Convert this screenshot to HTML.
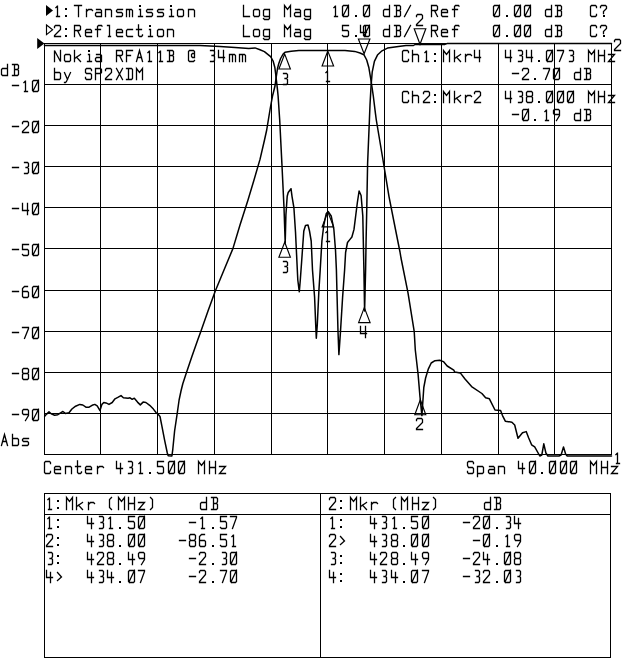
<!DOCTYPE html>
<html><head><meta charset="utf-8"><title>Nokia RFA11B</title>
<style>
html,body{margin:0;padding:0;background:#fff;}
body{width:640px;height:659px;overflow:hidden;font-family:"Liberation Mono",monospace;}
svg{display:block;}
.g{stroke:#000;stroke-width:1;fill:none;shape-rendering:crispEdges;}
.t{stroke:#000;stroke-width:1.5;fill:none;stroke-linejoin:round;stroke-linecap:round;}
.m{stroke:#000;stroke-width:1.15;fill:none;stroke-linejoin:miter;}
.f{stroke:#000;stroke-width:1.3;fill:none;stroke-linecap:square;stroke-linejoin:miter;}
.d{fill:#000;stroke:none;shape-rendering:crispEdges;}
</style></head><body>
<svg width="640" height="659" viewBox="0 0 640 659">
<desc>Network analyzer plot: 1:Transmission Log Mag 10.0 dB/ Ref 0.00 dB C? ; 2:Reflection Log Mag 5.0 dB/ Ref 0.00 dB C? ; Nokia RFA11B @ 34mm by SP2XDM ; Ch1:Mkr4 434.073 MHz -2.70 dB ; Ch2:Mkr2 438.000 MHz -0.19 dB ; Center 431.500 MHz ; Span 40.000 MHz</desc>
<rect width="640" height="659" fill="#fff"/>
<g class="g">
<line x1="44.5" y1="43.0" x2="44.5" y2="455.0"/>
<line x1="100.5" y1="43.0" x2="100.5" y2="455.0"/>
<line x1="157.5" y1="43.0" x2="157.5" y2="455.0"/>
<line x1="214.5" y1="43.0" x2="214.5" y2="455.0"/>
<line x1="271.5" y1="43.0" x2="271.5" y2="455.0"/>
<line x1="327.5" y1="43.0" x2="327.5" y2="455.0"/>
<line x1="384.5" y1="43.0" x2="384.5" y2="455.0"/>
<line x1="441.5" y1="43.0" x2="441.5" y2="455.0"/>
<line x1="498.5" y1="43.0" x2="498.5" y2="455.0"/>
<line x1="554.5" y1="43.0" x2="554.5" y2="455.0"/>
<line x1="611.5" y1="43.0" x2="611.5" y2="455.0"/>
<line x1="44.0" y1="43.5" x2="612.0" y2="43.5"/>
<line x1="44.0" y1="84.5" x2="612.0" y2="84.5"/>
<line x1="44.0" y1="125.5" x2="612.0" y2="125.5"/>
<line x1="44.0" y1="166.5" x2="612.0" y2="166.5"/>
<line x1="44.0" y1="207.5" x2="612.0" y2="207.5"/>
<line x1="44.0" y1="248.5" x2="612.0" y2="248.5"/>
<line x1="44.0" y1="290.5" x2="612.0" y2="290.5"/>
<line x1="44.0" y1="331.5" x2="612.0" y2="331.5"/>
<line x1="44.0" y1="372.5" x2="612.0" y2="372.5"/>
<line x1="44.0" y1="413.5" x2="612.0" y2="413.5"/>
<line x1="44.0" y1="454.5" x2="612.0" y2="454.5"/>
<rect x="44.5" y="493.5" width="566" height="164"/>
<line x1="44" y1="514.5" x2="611" y2="514.5"/>
<line x1="320.5" y1="493" x2="320.5" y2="658"/>
</g>
<polyline class="t" points="44.7,416.2 46.6,414.1 49.0,411.9 51.2,413.8 54.6,415.2 57.8,414.7 60.6,412.8 62.9,411.5 65.3,413.4 69.0,412.8 71.9,409.0 75.6,406.2 79.8,404.4 82.8,405.0 85.9,407.2 89.1,407.2 92.1,405.3 94.8,404.4 97.2,405.9 100.0,410.6 101.9,404.4 103.8,402.5 106.0,402.9 109.0,404.4 112.2,402.5 115.0,398.8 117.8,397.4 121.0,395.6 123.4,397.8 128.1,398.2 130.0,397.8 132.2,399.3 134.3,398.2 137.5,402.1 140.3,404.9 143.1,402.1 145.9,402.5 149.7,405.3 153.4,409.1 156.2,412.8 157.7,413.8 160.0,416.5 161.8,425.6 164.6,440.2 167.3,453.0 168.2,455.7 171.9,456.0 172.8,449.3 174.6,431.0 177.3,412.9 179.1,400.0 181.0,391.0 182.8,383.7 186.4,372.8 191.9,356.4 197.7,340.0 201.0,331.0 208.0,311.0 215.3,291.0 224.0,270.0 232.9,248.6 240.0,225.0 248.0,200.0 254.0,180.0 260.0,159.4 264.5,140.0 266.7,130.0 270.3,108.0 272.5,96.0 275.0,86.0 276.2,77.2 277.5,68.5 278.8,63.5 280.6,58.5 283.1,54.1 285.0,52.2 291.2,51.2 298.8,50.4 345.0,50.4 354.7,51.4 360.0,53.0 363.9,54.7 366.7,60.0 368.9,67.8 371.1,81.0 373.3,96.0 375.5,113.8 376.3,120.0 382.5,157.0 389.0,196.6 395.6,230.0 400.0,252.0 401.0,258.0 408.0,292.8 414.2,331.3 415.3,350.0 418.1,374.4 420.0,396.9 421.9,415.6 423.8,387.5 425.6,378.0 428.4,368.8 431.2,363.0 435.0,360.7 439.7,360.3 443.4,361.6 447.2,366.0 453.8,370.2 454.7,372.0 460.3,372.9 465.0,379.0 471.6,386.6 481.9,393.5 485.6,397.8 489.4,398.8 495.0,410.0 500.6,410.4 502.5,415.6 505.3,421.2 511.9,422.2 514.7,425.0 518.0,438.3 522.5,432.7 526.2,431.6 528.6,437.7 531.6,444.8 534.7,446.9 539.8,456.0 541.8,455.0 543.8,443.8 545.9,453.0 547.9,456.0 559.0,456.0 561.1,455.0 563.5,446.9 565.6,454.0 567.2,456.0 611.5,456.0"/>
<polyline class="t" points="44.5,45.5 200.0,45.5 220.0,46.5 235.0,47.4 248.8,48.4 255.0,47.9 260.0,49.8 264.4,51.6 267.5,54.1 270.6,56.6 273.1,61.0 274.8,67.2 275.6,73.5 276.5,81.0 277.5,89.8 278.1,96.0 279.7,120.0 281.9,163.8 284.0,207.5 285.2,243.0 285.9,215.0 286.6,205.0 287.2,196.3 288.2,192.5 291.0,188.7 292.0,196.3 293.9,207.7 295.5,232.0 297.8,280.0 299.3,291.8 300.3,280.0 301.6,262.0 303.8,231.0 305.5,225.5 308.0,225.0 309.5,231.0 311.2,241.0 312.5,270.0 314.6,297.3 315.7,324.6 316.3,338.3 317.3,324.6 318.9,290.5 320.2,270.0 321.9,241.0 323.8,225.0 326.2,213.8 328.1,211.5 331.2,216.0 333.8,228.8 335.5,250.0 336.4,270.0 337.1,297.3 338.0,331.4 338.9,354.6 340.5,331.4 342.6,297.3 344.6,270.0 345.6,252.5 347.5,242.5 350.0,239.4 351.9,237.0 354.0,229.4 357.3,203.0 359.1,191.0 361.1,195.5 362.8,216.0 363.9,270.0 364.6,311.0 365.6,270.0 366.1,240.0 366.8,207.5 367.6,163.8 369.4,120.0 370.0,105.0 371.1,85.3 372.2,72.2 374.4,61.3 377.7,54.7 382.0,50.8 387.5,48.1 393.0,47.2 398.4,46.5 406.0,45.6 413.5,45.5 415.0,44.5 445.0,44.4 447.0,43.6 611.5,43.6"/>
<path class="m" d="M327.8 51.0 L322.1 66.0 L333.6 66.0 Z"/>
<path class="m" d="M420.3 399.7 L414.8 414.7 L425.8 414.7 Z"/>
<path class="m" d="M284.7 54.0 L278.9 69.0 L290.4 69.0 Z"/>
<path class="m" d="M364.1 53.8 L358.4 39.0 L369.9 39.0 Z"/>
<path class="m" d="M327.8 211.9 L322.1 226.9 L333.6 226.9 Z"/>
<path class="m" d="M420.0 44.3 L414.2 28.7 L425.8 28.7 Z"/>
<path class="m" d="M284.7 242.2 L278.9 257.2 L290.4 257.2 Z"/>
<path class="m" d="M364.3 307.6 L358.6 322.6 L370.1 322.6 Z"/>
<path d="M37.2 38.1 L44.4 43.6 L37.2 49.1 Z" fill="#000"/>
<path d="M46 5.0 L53 10.45 L46 15.9 Z" fill="#000"/>
<path class="m" d="M46.5 25.0 L52.6 29.8 L46.5 34.6 Z"/>
<path class="f" d="M55.90 7.70 L57.50 5.90 L57.50 5.50 L57.50 16.50 M56.50 16.50 L59.50 16.50 M74.50 5.50 L81.50 5.50 M78.50 5.50 L78.50 16.50 M86.50 9.50 L86.50 16.50 M86.50 11.50 L88.50 9.50 L91.50 9.50 L92.50 10.50 M96.50 9.50 L100.50 9.50 L101.50 10.50 L101.50 16.50 M101.50 12.50 L96.50 12.50 L95.50 13.50 L95.50 15.50 L96.50 16.50 L101.50 16.50 M105.50 16.50 L105.50 9.50 L110.50 9.50 L111.50 10.50 L111.50 16.50 M122.50 9.50 L117.50 9.50 L116.50 10.50 L116.50 11.50 L117.50 12.50 L121.50 12.50 L122.50 13.50 L122.50 15.50 L121.50 16.50 L116.50 16.50 M126.50 16.50 L126.50 9.50 L131.50 9.50 L132.50 10.50 L132.50 16.50 M129.50 9.50 L129.50 16.50 M139.50 9.50 L140.50 9.50 L140.50 16.50 M138.50 16.50 L142.50 16.50 M152.50 9.50 L147.50 9.50 L146.50 10.50 L146.50 11.50 L147.50 12.50 L151.50 12.50 L152.50 13.50 L152.50 15.50 L151.50 16.50 L146.50 16.50 M163.50 9.50 L158.50 9.50 L157.50 10.50 L157.50 11.50 L158.50 12.50 L162.50 12.50 L163.50 13.50 L163.50 15.50 L162.50 16.50 L157.50 16.50 M170.50 9.50 L171.50 9.50 L171.50 16.50 M169.50 16.50 L173.50 16.50 M178.50 16.50 L182.50 16.50 L183.50 15.50 L183.50 10.50 L182.50 9.50 L178.50 9.50 L177.50 10.50 L177.50 15.50 L178.50 16.50 M188.50 16.50 L188.50 9.50 L193.50 9.50 L194.50 10.50 L194.50 16.50 M54.50 27.50 L54.50 26.50 L55.50 25.50 L59.50 25.50 L60.50 26.50 L60.50 29.50 L54.50 35.50 L54.50 36.50 L60.50 36.50 M74.50 36.50 L74.50 25.50 L79.50 25.50 L80.50 26.50 L80.50 29.50 L79.50 30.50 L74.50 30.50 M77.50 30.50 L80.50 36.50 M85.50 32.50 L91.50 32.50 L91.50 30.50 L90.50 29.50 L86.50 29.50 L85.50 30.50 L85.50 35.50 L86.50 36.50 L91.50 36.50 M102.00 26.10 L101.50 25.50 L98.50 25.50 L97.50 26.50 L97.50 36.50 M95.50 29.50 L100.50 29.50 M107.50 25.50 L109.50 25.50 L109.50 36.50 M108.50 36.50 L110.50 36.50 M116.50 32.50 L122.50 32.50 L122.50 30.50 L121.50 29.50 L117.50 29.50 L116.50 30.50 L116.50 35.50 L117.50 36.50 L122.50 36.50 M132.50 29.50 L127.50 29.50 L126.50 30.50 L126.50 35.50 L127.50 36.50 L132.50 36.50 M138.50 25.00 L138.50 35.50 L139.50 36.50 L141.50 36.50 L142.50 35.50 L142.50 34.90 M136.50 29.50 L141.50 29.50 M149.50 29.50 L150.50 29.50 L150.50 36.50 M148.50 36.50 L152.50 36.50 M158.50 36.50 L162.50 36.50 L163.50 35.50 L163.50 30.50 L162.50 29.50 L158.50 29.50 L157.50 30.50 L157.50 35.50 L158.50 36.50 M167.50 36.50 L167.50 29.50 L172.50 29.50 L173.50 30.50 L173.50 36.50 M243.50 5.50 L243.50 16.50 L249.50 16.50 M254.50 16.50 L258.50 16.50 L259.50 15.50 L259.50 10.50 L258.50 9.50 L254.50 9.50 L253.50 10.50 L253.50 15.50 L254.50 16.50 M269.50 9.50 L264.50 9.50 L263.50 10.50 L263.50 15.50 L264.50 16.50 L269.50 16.50 M269.50 9.50 L269.50 18.50 L268.50 19.50 L264.50 19.50 L263.50 18.50 M284.50 16.50 L284.50 5.50 L287.50 9.50 L290.50 5.50 L290.50 16.50 M295.50 9.50 L299.50 9.50 L300.50 10.50 L300.50 16.50 M300.50 12.50 L295.50 12.50 L294.50 13.50 L294.50 15.50 L295.50 16.50 L300.50 16.50 M310.50 9.50 L305.50 9.50 L304.50 10.50 L304.50 15.50 L305.50 16.50 L310.50 16.50 M310.50 9.50 L310.50 18.50 L309.50 19.50 L305.50 19.50 L304.50 18.50 M243.50 25.50 L243.50 36.50 L249.50 36.50 M254.50 36.50 L258.50 36.50 L259.50 35.50 L259.50 30.50 L258.50 29.50 L254.50 29.50 L253.50 30.50 L253.50 35.50 L254.50 36.50 M269.50 29.50 L264.50 29.50 L263.50 30.50 L263.50 35.50 L264.50 36.50 L269.50 36.50 M269.50 29.50 L269.50 38.50 L268.50 39.50 L264.50 39.50 L263.50 38.50 M284.50 36.50 L284.50 25.50 L287.50 29.50 L290.50 25.50 L290.50 36.50 M295.50 29.50 L299.50 29.50 L300.50 30.50 L300.50 36.50 M300.50 32.50 L295.50 32.50 L294.50 33.50 L294.50 35.50 L295.50 36.50 L300.50 36.50 M310.50 29.50 L305.50 29.50 L304.50 30.50 L304.50 35.50 L305.50 36.50 L310.50 36.50 M310.50 29.50 L310.50 38.50 L309.50 39.50 L305.50 39.50 L304.50 38.50 M333.90 7.70 L335.50 5.90 L335.50 5.50 L335.50 16.50 M334.50 16.50 L337.50 16.50 M343.50 16.50 L347.50 16.50 L348.50 15.50 L348.50 6.50 L347.50 5.50 L343.50 5.50 L342.50 6.50 L342.50 15.50 L343.50 16.50 M343.00 16.00 L348.50 5.20 M364.50 16.50 L368.50 16.50 L369.50 15.50 L369.50 6.50 L368.50 5.50 L364.50 5.50 L363.50 6.50 L363.50 15.50 L364.50 16.50 M364.00 16.00 L369.50 5.20 M389.50 5.50 L389.50 16.50 L384.50 16.50 L383.50 15.50 L383.50 10.50 L384.50 9.50 L389.50 9.50 M394.50 5.50 L399.50 5.50 L400.50 6.50 L400.50 9.50 L399.50 10.50 L396.50 10.50 M399.50 10.50 L400.50 11.50 L400.50 15.50 L399.50 16.50 L394.50 16.50 M396.50 16.50 L396.50 5.50 M404.50 16.50 L410.50 5.50 M348.50 25.50 L342.50 25.50 L342.50 30.50 L347.50 30.50 L348.50 31.50 L348.50 35.50 L347.50 36.50 L343.50 36.50 L342.50 35.50 M364.50 36.50 L368.50 36.50 L369.50 35.50 L369.50 26.50 L368.50 25.50 L364.50 25.50 L363.50 26.50 L363.50 35.50 L364.50 36.50 M364.00 36.00 L369.50 25.20 M389.50 25.50 L389.50 36.50 L384.50 36.50 L383.50 35.50 L383.50 30.50 L384.50 29.50 L389.50 29.50 M394.50 25.50 L399.50 25.50 L400.50 26.50 L400.50 29.50 L399.50 30.50 L396.50 30.50 M399.50 30.50 L400.50 31.50 L400.50 35.50 L399.50 36.50 L394.50 36.50 M396.50 36.50 L396.50 25.50 M404.50 36.50 L410.50 25.50 M431.50 16.50 L431.50 5.50 L436.50 5.50 L437.50 6.50 L437.50 9.50 L436.50 10.50 L431.50 10.50 M434.50 10.50 L437.50 16.50 M441.50 12.50 L447.50 12.50 L447.50 10.50 L446.50 9.50 L442.50 9.50 L441.50 10.50 L441.50 15.50 L442.50 16.50 L447.50 16.50 M459.00 6.10 L458.50 5.50 L455.50 5.50 L454.50 6.50 L454.50 16.50 M452.50 9.50 L457.50 9.50 M431.50 36.50 L431.50 25.50 L436.50 25.50 L437.50 26.50 L437.50 29.50 L436.50 30.50 L431.50 30.50 M434.50 30.50 L437.50 36.50 M441.50 32.50 L447.50 32.50 L447.50 30.50 L446.50 29.50 L442.50 29.50 L441.50 30.50 L441.50 35.50 L442.50 36.50 L447.50 36.50 M459.00 26.10 L458.50 25.50 L455.50 25.50 L454.50 26.50 L454.50 36.50 M452.50 29.50 L457.50 29.50 M494.50 16.50 L498.50 16.50 L499.50 15.50 L499.50 6.50 L498.50 5.50 L494.50 5.50 L493.50 6.50 L493.50 15.50 L494.50 16.50 M494.00 16.00 L499.50 5.20 M515.50 16.50 L519.50 16.50 L520.50 15.50 L520.50 6.50 L519.50 5.50 L515.50 5.50 L514.50 6.50 L514.50 15.50 L515.50 16.50 M515.00 16.00 L520.50 5.20 M525.50 16.50 L529.50 16.50 L530.50 15.50 L530.50 6.50 L529.50 5.50 L525.50 5.50 L524.50 6.50 L524.50 15.50 L525.50 16.50 M525.00 16.00 L530.50 5.20 M551.50 5.50 L551.50 16.50 L546.50 16.50 L545.50 15.50 L545.50 10.50 L546.50 9.50 L551.50 9.50 M555.50 5.50 L560.50 5.50 L561.50 6.50 L561.50 9.50 L560.50 10.50 L557.50 10.50 M560.50 10.50 L561.50 11.50 L561.50 15.50 L560.50 16.50 L555.50 16.50 M557.50 16.50 L557.50 5.50 M494.50 36.50 L498.50 36.50 L499.50 35.50 L499.50 26.50 L498.50 25.50 L494.50 25.50 L493.50 26.50 L493.50 35.50 L494.50 36.50 M494.00 36.00 L499.50 25.20 M515.50 36.50 L519.50 36.50 L520.50 35.50 L520.50 26.50 L519.50 25.50 L515.50 25.50 L514.50 26.50 L514.50 35.50 L515.50 36.50 M515.00 36.00 L520.50 25.20 M525.50 36.50 L529.50 36.50 L530.50 35.50 L530.50 26.50 L529.50 25.50 L525.50 25.50 L524.50 26.50 L524.50 35.50 L525.50 36.50 M525.00 36.00 L530.50 25.20 M551.50 25.50 L551.50 36.50 L546.50 36.50 L545.50 35.50 L545.50 30.50 L546.50 29.50 L551.50 29.50 M555.50 25.50 L560.50 25.50 L561.50 26.50 L561.50 29.50 L560.50 30.50 L557.50 30.50 M560.50 30.50 L561.50 31.50 L561.50 35.50 L560.50 36.50 L555.50 36.50 M557.50 36.50 L557.50 25.50 M596.50 7.50 L596.50 6.50 L595.50 5.50 L591.50 5.50 L590.50 6.50 L590.50 15.50 L591.50 16.50 L595.50 16.50 L596.50 15.50 L596.50 14.50 M600.50 7.50 L600.50 6.50 L601.50 5.50 L605.50 5.50 L606.50 6.50 L606.50 8.50 L603.50 11.50 L603.50 13.50 M596.50 27.50 L596.50 26.50 L595.50 25.50 L591.50 25.50 L590.50 26.50 L590.50 35.50 L591.50 36.50 L595.50 36.50 L596.50 35.50 L596.50 34.50 M600.50 27.50 L600.50 26.50 L601.50 25.50 L605.50 25.50 L606.50 26.50 L606.50 28.50 L603.50 31.50 L603.50 33.50 M54.50 61.50 L54.50 50.50 L60.50 61.50 L60.50 50.50 M65.50 61.50 L69.50 61.50 L70.50 60.50 L70.50 55.50 L69.50 54.50 L65.50 54.50 L64.50 55.50 L64.50 60.50 L65.50 61.50 M74.50 50.50 L74.50 61.50 M74.50 58.50 L80.50 54.50 M76.50 57.10 L80.50 61.50 M88.50 54.50 L89.50 54.50 L89.50 61.50 M87.50 61.50 L91.50 61.50 M96.50 54.50 L100.50 54.50 L101.50 55.50 L101.50 61.50 M101.50 57.50 L96.50 57.50 L95.50 58.50 L95.50 60.50 L96.50 61.50 L101.50 61.50 M116.50 61.50 L116.50 50.50 L121.50 50.50 L122.50 51.50 L122.50 54.50 L121.50 55.50 L116.50 55.50 M119.50 55.50 L122.50 61.50 M132.50 50.50 L126.50 50.50 L126.50 61.50 M126.50 55.50 L130.50 55.50 M136.50 61.50 L139.50 50.50 L142.50 61.50 M137.50 57.50 L141.50 57.50 M147.90 52.70 L149.50 50.90 L149.50 50.50 L149.50 61.50 M148.50 61.50 L151.50 61.50 M158.90 52.70 L160.50 50.90 L160.50 50.50 L160.50 61.50 M159.50 61.50 L162.50 61.50 M167.50 50.50 L172.50 50.50 L173.50 51.50 L173.50 54.50 L172.50 55.50 L169.50 55.50 M172.50 55.50 L173.50 56.50 L173.50 60.50 L172.50 61.50 L167.50 61.50 M169.50 61.50 L169.50 50.50 M194.50 60.50 L193.50 61.50 L189.50 61.50 L188.50 60.50 L188.50 51.50 L189.50 50.50 L193.50 50.50 L194.50 51.50 L194.50 57.50 L192.50 57.50 L191.50 56.50 L191.50 54.50 L192.50 53.50 L194.50 53.50 M210.50 50.50 L213.50 50.50 L214.50 51.50 L214.50 54.50 L213.50 55.50 L212.00 55.50 M213.50 55.50 L214.50 56.50 L214.50 60.50 L213.50 61.50 L210.50 61.50 M218.50 50.50 L218.50 57.50 L224.50 57.50 M223.50 50.50 L223.50 61.50 M229.50 61.50 L229.50 54.50 L234.50 54.50 L235.50 55.50 L235.50 61.50 M232.50 54.50 L232.50 61.50 M239.50 61.50 L239.50 54.50 L244.50 54.50 L245.50 55.50 L245.50 61.50 M242.50 54.50 L242.50 61.50 M54.50 68.50 L54.50 79.50 L59.50 79.50 L60.50 78.50 L60.50 73.50 L59.50 72.50 L54.50 72.50 M64.50 72.50 L67.50 79.50 M70.50 72.50 L66.50 81.50 L65.50 82.50 L64.50 82.50 M91.50 70.50 L91.50 69.50 L90.50 68.50 L86.50 68.50 L85.50 69.50 L85.50 72.50 L86.50 73.50 L90.50 73.50 L91.50 74.50 L91.50 78.50 L90.50 79.50 L86.50 79.50 L85.50 78.50 L85.50 77.50 M95.50 79.50 L95.50 68.50 L100.50 68.50 L101.50 69.50 L101.50 72.50 L100.50 73.50 L95.50 73.50 M105.50 70.50 L105.50 69.50 L106.50 68.50 L110.50 68.50 L111.50 69.50 L111.50 72.50 L105.50 78.50 L105.50 79.50 L111.50 79.50 M116.50 79.50 L122.50 68.50 M116.50 68.50 L122.50 79.50 M126.50 68.50 L131.50 68.50 L132.50 69.50 L132.50 78.50 L131.50 79.50 L126.50 79.50 M128.50 79.50 L128.50 68.50 M136.50 79.50 L136.50 68.50 L139.50 72.50 L142.50 68.50 L142.50 79.50 M408.50 52.50 L408.50 51.50 L407.50 50.50 L403.50 50.50 L402.50 51.50 L402.50 60.50 L403.50 61.50 L407.50 61.50 L408.50 60.50 L408.50 59.50 M412.50 50.50 L412.50 61.50 M412.50 55.50 L413.50 54.50 L417.50 54.50 L418.50 55.50 L418.50 61.50 M424.90 52.70 L426.50 50.90 L426.50 50.50 L426.50 61.50 M425.50 61.50 L428.50 61.50 M443.50 61.50 L443.50 50.50 L446.50 54.50 L449.50 50.50 L449.50 61.50 M454.50 50.50 L454.50 61.50 M454.50 58.50 L460.50 54.50 M456.50 57.10 L460.50 61.50 M465.50 54.50 L465.50 61.50 M465.50 56.50 L467.50 54.50 L470.50 54.50 L471.50 55.50 M474.50 50.50 L474.50 57.50 L480.50 57.50 M479.50 50.50 L479.50 61.50 M505.50 50.50 L505.50 57.50 L511.50 57.50 M510.50 50.50 L510.50 61.50 M518.50 50.50 L521.50 50.50 L522.50 51.50 L522.50 54.50 L521.50 55.50 L520.00 55.50 M521.50 55.50 L522.50 56.50 L522.50 60.50 L521.50 61.50 L518.50 61.50 M526.50 50.50 L526.50 57.50 L532.50 57.50 M531.50 50.50 L531.50 61.50 M547.50 61.50 L551.50 61.50 L552.50 60.50 L552.50 51.50 L551.50 50.50 L547.50 50.50 L546.50 51.50 L546.50 60.50 L547.50 61.50 M547.00 61.00 L552.50 50.20 M557.50 50.50 L563.50 50.50 L563.50 51.50 L559.50 61.50 M569.50 50.50 L572.50 50.50 L573.50 51.50 L573.50 54.50 L572.50 55.50 L571.00 55.50 M572.50 55.50 L573.50 56.50 L573.50 60.50 L572.50 61.50 L569.50 61.50 M588.50 61.50 L588.50 50.50 L591.50 54.50 L594.50 50.50 L594.50 61.50 M598.50 61.50 L598.50 50.50 M604.50 61.50 L604.50 50.50 M598.50 55.50 L604.50 55.50 M608.50 54.50 L614.50 54.50 L608.50 61.50 L614.50 61.50 M512.50 73.50 L518.50 73.50 M522.50 70.50 L522.50 69.50 L523.50 68.50 L527.50 68.50 L528.50 69.50 L528.50 72.50 L522.50 78.50 L522.50 79.50 L528.50 79.50 M543.50 68.50 L549.50 68.50 L549.50 69.50 L545.50 79.50 M554.50 79.50 L558.50 79.50 L559.50 78.50 L559.50 69.50 L558.50 68.50 L554.50 68.50 L553.50 69.50 L553.50 78.50 L554.50 79.50 M554.00 79.00 L559.50 68.20 M580.50 68.50 L580.50 79.50 L575.50 79.50 L574.50 78.50 L574.50 73.50 L575.50 72.50 L580.50 72.50 M584.50 68.50 L589.50 68.50 L590.50 69.50 L590.50 72.50 L589.50 73.50 L586.50 73.50 M589.50 73.50 L590.50 74.50 L590.50 78.50 L589.50 79.50 L584.50 79.50 M586.50 79.50 L586.50 68.50 M408.50 93.50 L408.50 92.50 L407.50 91.50 L403.50 91.50 L402.50 92.50 L402.50 101.50 L403.50 102.50 L407.50 102.50 L408.50 101.50 L408.50 100.50 M412.50 91.50 L412.50 102.50 M412.50 96.50 L413.50 95.50 L417.50 95.50 L418.50 96.50 L418.50 102.50 M423.50 93.50 L423.50 92.50 L424.50 91.50 L428.50 91.50 L429.50 92.50 L429.50 95.50 L423.50 101.50 L423.50 102.50 L429.50 102.50 M443.50 102.50 L443.50 91.50 L446.50 95.50 L449.50 91.50 L449.50 102.50 M454.50 91.50 L454.50 102.50 M454.50 99.50 L460.50 95.50 M456.50 98.10 L460.50 102.50 M465.50 95.50 L465.50 102.50 M465.50 97.50 L467.50 95.50 L470.50 95.50 L471.50 96.50 M474.50 93.50 L474.50 92.50 L475.50 91.50 L479.50 91.50 L480.50 92.50 L480.50 95.50 L474.50 101.50 L474.50 102.50 L480.50 102.50 M505.50 91.50 L505.50 98.50 L511.50 98.50 M510.50 91.50 L510.50 102.50 M518.50 91.50 L521.50 91.50 L522.50 92.50 L522.50 95.50 L521.50 96.50 L520.00 96.50 M521.50 96.50 L522.50 97.50 L522.50 101.50 L521.50 102.50 L518.50 102.50 M527.50 96.50 L526.50 95.50 L526.50 92.50 L527.50 91.50 L531.50 91.50 L532.50 92.50 L532.50 95.50 L531.50 96.50 L527.50 96.50 L526.50 97.50 L526.50 101.50 L527.50 102.50 L531.50 102.50 L532.50 101.50 L532.50 97.50 L531.50 96.50 M547.50 102.50 L551.50 102.50 L552.50 101.50 L552.50 92.50 L551.50 91.50 L547.50 91.50 L546.50 92.50 L546.50 101.50 L547.50 102.50 M547.00 102.00 L552.50 91.20 M558.50 102.50 L562.50 102.50 L563.50 101.50 L563.50 92.50 L562.50 91.50 L558.50 91.50 L557.50 92.50 L557.50 101.50 L558.50 102.50 M558.00 102.00 L563.50 91.20 M568.50 102.50 L572.50 102.50 L573.50 101.50 L573.50 92.50 L572.50 91.50 L568.50 91.50 L567.50 92.50 L567.50 101.50 L568.50 102.50 M568.00 102.00 L573.50 91.20 M588.50 102.50 L588.50 91.50 L591.50 95.50 L594.50 91.50 L594.50 102.50 M598.50 102.50 L598.50 91.50 M604.50 102.50 L604.50 91.50 M598.50 96.50 L604.50 96.50 M608.50 95.50 L614.50 95.50 L608.50 102.50 L614.50 102.50 M512.50 114.50 L518.50 114.50 M523.50 120.50 L527.50 120.50 L528.50 119.50 L528.50 110.50 L527.50 109.50 L523.50 109.50 L522.50 110.50 L522.50 119.50 L523.50 120.50 M523.00 120.00 L528.50 109.20 M544.90 111.70 L546.50 109.90 L546.50 109.50 L546.50 120.50 M545.50 120.50 L548.50 120.50 M559.50 114.50 L554.50 114.50 L553.50 113.50 L553.50 110.50 L554.50 109.50 L558.50 109.50 L559.50 110.50 L559.50 115.50 L556.50 120.50 M580.50 109.50 L580.50 120.50 L575.50 120.50 L574.50 119.50 L574.50 114.50 L575.50 113.50 L580.50 113.50 M584.50 109.50 L589.50 109.50 L590.50 110.50 L590.50 113.50 L589.50 114.50 L586.50 114.50 M589.50 114.50 L590.50 115.50 L590.50 119.50 L589.50 120.50 L584.50 120.50 M586.50 120.50 L586.50 109.50 M7.50 64.50 L7.50 75.50 L2.50 75.50 L1.50 74.50 L1.50 69.50 L2.50 68.50 L7.50 68.50 M12.50 64.50 L17.50 64.50 L18.50 65.50 L18.50 68.50 L17.50 69.50 L14.50 69.50 M17.50 69.50 L18.50 70.50 L18.50 74.50 L17.50 75.50 L12.50 75.50 M14.50 75.50 L14.50 64.50 M12.50 85.50 L18.50 85.50 M23.90 82.70 L25.50 80.90 L25.50 80.50 L25.50 91.50 M24.50 91.50 L27.50 91.50 M33.50 91.50 L37.50 91.50 L38.50 90.50 L38.50 81.50 L37.50 80.50 L33.50 80.50 L32.50 81.50 L32.50 90.50 L33.50 91.50 M33.00 91.00 L38.50 80.20 M12.50 126.50 L18.50 126.50 M22.50 123.50 L22.50 122.50 L23.50 121.50 L27.50 121.50 L28.50 122.50 L28.50 125.50 L22.50 131.50 L22.50 132.50 L28.50 132.50 M33.50 132.50 L37.50 132.50 L38.50 131.50 L38.50 122.50 L37.50 121.50 L33.50 121.50 L32.50 122.50 L32.50 131.50 L33.50 132.50 M33.00 132.00 L38.50 121.20 M12.50 167.50 L18.50 167.50 M24.50 162.50 L27.50 162.50 L28.50 163.50 L28.50 166.50 L27.50 167.50 L26.00 167.50 M27.50 167.50 L28.50 168.50 L28.50 172.50 L27.50 173.50 L24.50 173.50 M33.50 173.50 L37.50 173.50 L38.50 172.50 L38.50 163.50 L37.50 162.50 L33.50 162.50 L32.50 163.50 L32.50 172.50 L33.50 173.50 M33.00 173.00 L38.50 162.20 M12.50 208.50 L18.50 208.50 M22.50 203.50 L22.50 210.50 L28.50 210.50 M27.50 203.50 L27.50 214.50 M33.50 214.50 L37.50 214.50 L38.50 213.50 L38.50 204.50 L37.50 203.50 L33.50 203.50 L32.50 204.50 L32.50 213.50 L33.50 214.50 M33.00 214.00 L38.50 203.20 M12.50 249.50 L18.50 249.50 M28.50 244.50 L22.50 244.50 L22.50 249.50 L27.50 249.50 L28.50 250.50 L28.50 254.50 L27.50 255.50 L23.50 255.50 L22.50 254.50 M33.50 255.50 L37.50 255.50 L38.50 254.50 L38.50 245.50 L37.50 244.50 L33.50 244.50 L32.50 245.50 L32.50 254.50 L33.50 255.50 M33.00 255.00 L38.50 244.20 M12.50 291.50 L18.50 291.50 M27.50 286.50 L24.50 286.50 L22.50 288.50 L22.50 296.50 L23.50 297.50 L27.50 297.50 L28.50 296.50 L28.50 292.50 L27.50 291.50 L22.50 291.50 M33.50 297.50 L37.50 297.50 L38.50 296.50 L38.50 287.50 L37.50 286.50 L33.50 286.50 L32.50 287.50 L32.50 296.50 L33.50 297.50 M33.00 297.00 L38.50 286.20 M12.50 332.50 L18.50 332.50 M22.50 327.50 L28.50 327.50 L28.50 328.50 L24.50 338.50 M33.50 338.50 L37.50 338.50 L38.50 337.50 L38.50 328.50 L37.50 327.50 L33.50 327.50 L32.50 328.50 L32.50 337.50 L33.50 338.50 M33.00 338.00 L38.50 327.20 M12.50 373.50 L18.50 373.50 M23.50 373.50 L22.50 372.50 L22.50 369.50 L23.50 368.50 L27.50 368.50 L28.50 369.50 L28.50 372.50 L27.50 373.50 L23.50 373.50 L22.50 374.50 L22.50 378.50 L23.50 379.50 L27.50 379.50 L28.50 378.50 L28.50 374.50 L27.50 373.50 M33.50 379.50 L37.50 379.50 L38.50 378.50 L38.50 369.50 L37.50 368.50 L33.50 368.50 L32.50 369.50 L32.50 378.50 L33.50 379.50 M33.00 379.00 L38.50 368.20 M12.50 414.50 L18.50 414.50 M28.50 414.50 L23.50 414.50 L22.50 413.50 L22.50 410.50 L23.50 409.50 L27.50 409.50 L28.50 410.50 L28.50 415.50 L25.50 420.50 M33.50 420.50 L37.50 420.50 L38.50 419.50 L38.50 410.50 L37.50 409.50 L33.50 409.50 L32.50 410.50 L32.50 419.50 L33.50 420.50 M33.00 420.00 L38.50 409.20 M1.50 445.50 L4.50 434.50 L7.50 445.50 M2.50 441.50 L6.50 441.50 M12.50 434.50 L12.50 445.50 L17.50 445.50 L18.50 444.50 L18.50 439.50 L17.50 438.50 L12.50 438.50 M28.50 438.50 L23.50 438.50 L22.50 439.50 L22.50 440.50 L23.50 441.50 L27.50 441.50 L28.50 442.50 L28.50 444.50 L27.50 445.50 L22.50 445.50 M50.50 463.50 L50.50 462.50 L49.50 461.50 L45.50 461.50 L44.50 462.50 L44.50 472.50 L45.50 473.50 L49.50 473.50 L50.50 472.50 L50.50 471.50 M54.50 469.50 L60.50 469.50 L60.50 467.50 L59.50 466.50 L55.50 466.50 L54.50 467.50 L54.50 472.50 L55.50 473.50 L60.50 473.50 M65.50 473.50 L65.50 466.50 L70.50 466.50 L71.50 467.50 L71.50 473.50 M77.50 461.00 L77.50 472.50 L78.50 473.50 L80.50 473.50 L81.50 472.50 L81.50 471.90 M75.50 466.50 L80.50 466.50 M85.50 469.50 L91.50 469.50 L91.50 467.50 L90.50 466.50 L86.50 466.50 L85.50 467.50 L85.50 472.50 L86.50 473.50 L91.50 473.50 M97.50 466.50 L97.50 473.50 M97.50 468.50 L99.50 466.50 L102.50 466.50 L103.50 467.50 M116.50 461.50 L116.50 468.50 L122.50 468.50 M120.50 463.50 L120.50 473.50 M128.50 461.50 L131.50 461.50 L132.50 462.50 L132.50 465.50 L131.50 467.50 L130.00 467.50 M131.50 467.50 L132.50 468.50 L132.50 472.50 L131.50 473.50 L128.50 473.50 M138.90 463.70 L140.50 461.90 L140.50 461.50 L140.50 473.50 M139.50 473.50 L142.50 473.50 M163.50 461.50 L157.50 461.50 L157.50 466.50 L162.50 466.50 L163.50 468.00 L163.50 472.50 L162.50 473.50 L158.50 473.50 L157.50 472.50 M169.50 473.50 L173.50 473.50 L174.50 472.50 L174.50 462.50 L173.50 461.50 L169.50 461.50 L168.50 462.50 L168.50 472.50 L169.50 473.50 M169.00 473.00 L174.50 461.20 M179.50 473.50 L183.50 473.50 L184.50 472.50 L184.50 462.50 L183.50 461.50 L179.50 461.50 L178.50 462.50 L178.50 472.50 L179.50 473.50 M179.00 473.00 L184.50 461.20 M198.50 473.50 L198.50 461.50 L201.50 465.50 L204.50 461.50 L204.50 473.50 M209.50 473.50 L209.50 461.50 M215.50 473.50 L215.50 461.50 M209.50 467.50 L215.50 467.50 M219.50 466.50 L225.50 466.50 L219.50 473.50 L225.50 473.50 M473.50 463.50 L473.50 462.50 L472.50 461.50 L468.50 461.50 L467.50 462.50 L467.50 465.50 L468.50 467.50 L472.50 467.50 L473.50 468.50 L473.50 472.50 L472.50 473.50 L468.50 473.50 L467.50 472.50 L467.50 471.50 M477.50 476.50 L477.50 466.50 L482.50 466.50 L483.50 467.50 L483.50 472.50 L482.50 473.50 L477.50 473.50 M489.50 466.50 L493.50 466.50 L494.50 467.50 L494.50 473.50 M494.50 469.50 L489.50 469.50 L488.50 470.50 L488.50 472.50 L489.50 473.50 L494.50 473.50 M498.50 473.50 L498.50 466.50 L503.50 466.50 L504.50 467.50 L504.50 473.50 M518.50 461.50 L518.50 468.50 L524.50 468.50 M522.50 463.50 L522.50 473.50 M530.50 473.50 L534.50 473.50 L535.50 472.50 L535.50 462.50 L534.50 461.50 L530.50 461.50 L529.50 462.50 L529.50 472.50 L530.50 473.50 M530.00 473.00 L535.50 461.20 M550.50 473.50 L554.50 473.50 L555.50 472.50 L555.50 462.50 L554.50 461.50 L550.50 461.50 L549.50 462.50 L549.50 472.50 L550.50 473.50 M550.00 473.00 L555.50 461.20 M561.50 473.50 L565.50 473.50 L566.50 472.50 L566.50 462.50 L565.50 461.50 L561.50 461.50 L560.50 462.50 L560.50 472.50 L561.50 473.50 M561.00 473.00 L566.50 461.20 M571.50 473.50 L575.50 473.50 L576.50 472.50 L576.50 462.50 L575.50 461.50 L571.50 461.50 L570.50 462.50 L570.50 472.50 L571.50 473.50 M571.00 473.00 L576.50 461.20 M590.50 473.50 L590.50 461.50 L593.50 465.50 L596.50 461.50 L596.50 473.50 M601.50 473.50 L601.50 461.50 M607.50 473.50 L607.50 461.50 M601.50 467.50 L607.50 467.50 M611.50 466.50 L617.50 466.50 L611.50 473.50 L617.50 473.50 M614.50 41.50 L614.50 40.50 L615.50 39.50 L619.50 39.50 L620.50 40.50 L620.50 43.50 L614.50 49.50 L614.50 50.50 L620.50 50.50 M615.90 454.70 L617.50 452.90 L617.50 452.50 L617.50 463.50 M616.50 463.50 L619.50 463.50 M416.50 16.50 L416.50 15.50 L417.50 14.50 L421.50 14.50 L422.50 15.50 L422.50 18.50 L416.50 24.50 L416.50 25.50 L422.50 25.50 M360.50 25.50 L360.50 32.50 L366.50 32.50 M365.50 25.50 L365.50 36.50 M325.90 72.70 L327.50 70.90 L327.50 70.50 L327.50 81.50 M326.50 81.50 L329.50 81.50 M283.50 73.50 L286.50 73.50 L287.50 74.50 L287.50 77.50 L286.50 78.50 L285.00 78.50 M286.50 78.50 L287.50 79.50 L287.50 83.50 L286.50 84.50 L283.50 84.50 M416.50 420.50 L416.50 419.50 L417.50 418.50 L421.50 418.50 L422.50 419.50 L422.50 422.50 L416.50 428.50 L416.50 429.50 L422.50 429.50 M325.90 232.70 L327.50 230.90 L327.50 230.50 L327.50 241.50 M326.50 241.50 L329.50 241.50 M283.50 261.50 L286.50 261.50 L287.50 262.50 L287.50 265.50 L286.50 266.50 L285.00 266.50 M286.50 266.50 L287.50 267.50 L287.50 271.50 L286.50 272.50 L283.50 272.50 M360.50 326.50 L360.50 333.50 L366.50 333.50 M365.50 326.50 L365.50 337.50 M47.90 499.70 L49.50 497.90 L49.50 497.50 L49.50 509.50 M48.50 509.50 L51.50 509.50 M66.50 509.50 L66.50 497.50 L69.50 501.50 L72.50 497.50 L72.50 509.50 M76.50 497.50 L76.50 509.50 M76.50 506.50 L82.50 502.50 M78.50 505.10 L82.50 509.50 M88.50 502.50 L88.50 509.50 M88.50 504.50 L90.50 502.50 L93.50 502.50 L94.50 503.50 M111.50 497.50 L109.50 499.50 L109.50 507.50 L111.50 509.50 M118.50 509.50 L118.50 497.50 L121.50 501.50 L124.50 497.50 L124.50 509.50 M128.50 509.50 L128.50 497.50 M134.50 509.50 L134.50 497.50 M128.50 503.50 L134.50 503.50 M138.50 502.50 L144.50 502.50 L138.50 509.50 L144.50 509.50 M150.50 497.50 L152.50 499.50 L152.50 507.50 L150.50 509.50 M206.50 497.50 L206.50 509.50 L201.50 509.50 L200.50 508.50 L200.50 503.50 L201.50 502.50 L206.50 502.50 M211.50 497.50 L216.50 497.50 L217.50 498.50 L217.50 501.50 L216.50 503.50 L213.50 503.50 M216.50 503.50 L217.50 504.50 L217.50 508.50 L216.50 509.50 L211.50 509.50 M213.50 509.50 L213.50 497.50 M47.90 518.70 L49.50 516.90 L49.50 516.50 L49.50 528.50 M48.50 528.50 L51.50 528.50 M87.50 516.50 L87.50 523.50 L93.50 523.50 M91.50 518.50 L91.50 528.50 M99.50 516.50 L102.50 516.50 L103.50 517.50 L103.50 520.50 L102.50 522.50 L101.00 522.50 M102.50 522.50 L103.50 523.50 L103.50 527.50 L102.50 528.50 L99.50 528.50 M108.90 518.70 L110.50 516.90 L110.50 516.50 L110.50 528.50 M109.50 528.50 L112.50 528.50 M134.50 516.50 L128.50 516.50 L128.50 521.50 L133.50 521.50 L134.50 523.00 L134.50 527.50 L133.50 528.50 L129.50 528.50 L128.50 527.50 M139.50 528.50 L143.50 528.50 L144.50 527.50 L144.50 517.50 L143.50 516.50 L139.50 516.50 L138.50 517.50 L138.50 527.50 L139.50 528.50 M139.00 528.00 L144.50 516.20 M189.50 522.50 L195.50 522.50 M200.90 518.70 L202.50 516.90 L202.50 516.50 L202.50 528.50 M201.50 528.50 L204.50 528.50 M226.50 516.50 L220.50 516.50 L220.50 521.50 L225.50 521.50 L226.50 523.00 L226.50 527.50 L225.50 528.50 L221.50 528.50 L220.50 527.50 M230.50 516.50 L236.50 516.50 L236.50 517.50 L232.50 528.50 M46.50 536.50 L46.50 535.50 L47.50 534.50 L51.50 534.50 L52.50 535.50 L52.50 538.50 L46.50 545.50 L46.50 546.50 L52.50 546.50 M87.50 534.50 L87.50 541.50 L93.50 541.50 M91.50 536.50 L91.50 546.50 M99.50 534.50 L102.50 534.50 L103.50 535.50 L103.50 538.50 L102.50 540.50 L101.00 540.50 M102.50 540.50 L103.50 541.50 L103.50 545.50 L102.50 546.50 L99.50 546.50 M108.50 540.50 L107.50 538.50 L107.50 535.50 L108.50 534.50 L112.50 534.50 L113.50 535.50 L113.50 538.50 L112.50 540.50 L108.50 540.50 L107.50 541.50 L107.50 545.50 L108.50 546.50 L112.50 546.50 L113.50 545.50 L113.50 541.50 L112.50 540.50 M129.50 546.50 L133.50 546.50 L134.50 545.50 L134.50 535.50 L133.50 534.50 L129.50 534.50 L128.50 535.50 L128.50 545.50 L129.50 546.50 M129.00 546.00 L134.50 534.20 M139.50 546.50 L143.50 546.50 L144.50 545.50 L144.50 535.50 L143.50 534.50 L139.50 534.50 L138.50 535.50 L138.50 545.50 L139.50 546.50 M139.00 546.00 L144.50 534.20 M179.50 540.50 L185.50 540.50 M190.50 540.50 L189.50 538.50 L189.50 535.50 L190.50 534.50 L194.50 534.50 L195.50 535.50 L195.50 538.50 L194.50 540.50 L190.50 540.50 L189.50 541.50 L189.50 545.50 L190.50 546.50 L194.50 546.50 L195.50 545.50 L195.50 541.50 L194.50 540.50 M204.50 534.50 L201.50 534.50 L199.50 536.50 L199.50 545.50 L200.50 546.50 L204.50 546.50 L205.50 545.50 L205.50 541.50 L204.50 540.50 L199.50 540.50 M226.50 534.50 L220.50 534.50 L220.50 539.50 L225.50 539.50 L226.50 541.00 L226.50 545.50 L225.50 546.50 L221.50 546.50 L220.50 545.50 M231.90 536.70 L233.50 534.90 L233.50 534.50 L233.50 546.50 M232.50 546.50 L235.50 546.50 M48.50 552.50 L51.50 552.50 L52.50 553.50 L52.50 556.50 L51.50 558.50 L50.00 558.50 M51.50 558.50 L52.50 559.50 L52.50 563.50 L51.50 564.50 L48.50 564.50 M87.50 552.50 L87.50 559.50 L93.50 559.50 M91.50 554.50 L91.50 564.50 M97.50 554.50 L97.50 553.50 L98.50 552.50 L102.50 552.50 L103.50 553.50 L103.50 556.50 L97.50 563.50 L97.50 564.50 L103.50 564.50 M108.50 558.50 L107.50 556.50 L107.50 553.50 L108.50 552.50 L112.50 552.50 L113.50 553.50 L113.50 556.50 L112.50 558.50 L108.50 558.50 L107.50 559.50 L107.50 563.50 L108.50 564.50 L112.50 564.50 L113.50 563.50 L113.50 559.50 L112.50 558.50 M128.50 552.50 L128.50 559.50 L134.50 559.50 M132.50 554.50 L132.50 564.50 M144.50 558.50 L139.50 558.50 L138.50 556.50 L138.50 553.50 L139.50 552.50 L143.50 552.50 L144.50 553.50 L144.50 559.50 L141.50 564.50 M189.50 558.50 L195.50 558.50 M199.50 554.50 L199.50 553.50 L200.50 552.50 L204.50 552.50 L205.50 553.50 L205.50 556.50 L199.50 563.50 L199.50 564.50 L205.50 564.50 M222.50 552.50 L225.50 552.50 L226.50 553.50 L226.50 556.50 L225.50 558.50 L224.00 558.50 M225.50 558.50 L226.50 559.50 L226.50 563.50 L225.50 564.50 L222.50 564.50 M231.50 564.50 L235.50 564.50 L236.50 563.50 L236.50 553.50 L235.50 552.50 L231.50 552.50 L230.50 553.50 L230.50 563.50 L231.50 564.50 M231.00 564.00 L236.50 552.20 M46.50 570.50 L46.50 577.50 L52.50 577.50 M50.50 572.50 L50.50 582.50 M57.50 572.50 L61.50 577.00 L57.50 580.50 M87.50 570.50 L87.50 577.50 L93.50 577.50 M91.50 572.50 L91.50 582.50 M99.50 570.50 L102.50 570.50 L103.50 571.50 L103.50 574.50 L102.50 576.50 L101.00 576.50 M102.50 576.50 L103.50 577.50 L103.50 581.50 L102.50 582.50 L99.50 582.50 M107.50 570.50 L107.50 577.50 L113.50 577.50 M111.50 572.50 L111.50 582.50 M129.50 582.50 L133.50 582.50 L134.50 581.50 L134.50 571.50 L133.50 570.50 L129.50 570.50 L128.50 571.50 L128.50 581.50 L129.50 582.50 M129.00 582.00 L134.50 570.20 M138.50 570.50 L144.50 570.50 L144.50 571.50 L140.50 582.50 M189.50 576.50 L195.50 576.50 M199.50 572.50 L199.50 571.50 L200.50 570.50 L204.50 570.50 L205.50 571.50 L205.50 574.50 L199.50 581.50 L199.50 582.50 L205.50 582.50 M220.50 570.50 L226.50 570.50 L226.50 571.50 L222.50 582.50 M231.50 582.50 L235.50 582.50 L236.50 581.50 L236.50 571.50 L235.50 570.50 L231.50 570.50 L230.50 571.50 L230.50 581.50 L231.50 582.50 M231.00 582.00 L236.50 570.20 M329.50 499.50 L329.50 498.50 L330.50 497.50 L334.50 497.50 L335.50 498.50 L335.50 501.50 L329.50 508.50 L329.50 509.50 L335.50 509.50 M350.50 509.50 L350.50 497.50 L353.50 501.50 L356.50 497.50 L356.50 509.50 M360.50 497.50 L360.50 509.50 M360.50 506.50 L366.50 502.50 M362.50 505.10 L366.50 509.50 M371.50 502.50 L371.50 509.50 M371.50 504.50 L373.50 502.50 L376.50 502.50 L377.50 503.50 M395.50 497.50 L393.50 499.50 L393.50 507.50 L395.50 509.50 M401.50 509.50 L401.50 497.50 L404.50 501.50 L407.50 497.50 L407.50 509.50 M412.50 509.50 L412.50 497.50 M418.50 509.50 L418.50 497.50 M412.50 503.50 L418.50 503.50 M422.50 502.50 L428.50 502.50 L422.50 509.50 L428.50 509.50 M433.50 497.50 L435.50 499.50 L435.50 507.50 L433.50 509.50 M490.50 497.50 L490.50 509.50 L485.50 509.50 L484.50 508.50 L484.50 503.50 L485.50 502.50 L490.50 502.50 M494.50 497.50 L499.50 497.50 L500.50 498.50 L500.50 501.50 L499.50 503.50 L496.50 503.50 M499.50 503.50 L500.50 504.50 L500.50 508.50 L499.50 509.50 L494.50 509.50 M496.50 509.50 L496.50 497.50 M330.90 518.70 L332.50 516.90 L332.50 516.50 L332.50 528.50 M331.50 528.50 L334.50 528.50 M370.50 516.50 L370.50 523.50 L376.50 523.50 M374.50 518.50 L374.50 528.50 M382.50 516.50 L385.50 516.50 L386.50 517.50 L386.50 520.50 L385.50 522.50 L384.00 522.50 M385.50 522.50 L386.50 523.50 L386.50 527.50 L385.50 528.50 L382.50 528.50 M392.90 518.70 L394.50 516.90 L394.50 516.50 L394.50 528.50 M393.50 528.50 L396.50 528.50 M417.50 516.50 L411.50 516.50 L411.50 521.50 L416.50 521.50 L417.50 523.00 L417.50 527.50 L416.50 528.50 L412.50 528.50 L411.50 527.50 M423.50 528.50 L427.50 528.50 L428.50 527.50 L428.50 517.50 L427.50 516.50 L423.50 516.50 L422.50 517.50 L422.50 527.50 L423.50 528.50 M423.00 528.00 L428.50 516.20 M463.50 522.50 L469.50 522.50 M473.50 518.50 L473.50 517.50 L474.50 516.50 L478.50 516.50 L479.50 517.50 L479.50 520.50 L473.50 527.50 L473.50 528.50 L479.50 528.50 M484.50 528.50 L488.50 528.50 L489.50 527.50 L489.50 517.50 L488.50 516.50 L484.50 516.50 L483.50 517.50 L483.50 527.50 L484.50 528.50 M484.00 528.00 L489.50 516.20 M506.50 516.50 L509.50 516.50 L510.50 517.50 L510.50 520.50 L509.50 522.50 L508.00 522.50 M509.50 522.50 L510.50 523.50 L510.50 527.50 L509.50 528.50 L506.50 528.50 M514.50 516.50 L514.50 523.50 L520.50 523.50 M518.50 518.50 L518.50 528.50 M329.50 536.50 L329.50 535.50 L330.50 534.50 L334.50 534.50 L335.50 535.50 L335.50 538.50 L329.50 545.50 L329.50 546.50 L335.50 546.50 M340.50 536.50 L344.50 541.00 L340.50 544.50 M370.50 534.50 L370.50 541.50 L376.50 541.50 M374.50 536.50 L374.50 546.50 M382.50 534.50 L385.50 534.50 L386.50 535.50 L386.50 538.50 L385.50 540.50 L384.00 540.50 M385.50 540.50 L386.50 541.50 L386.50 545.50 L385.50 546.50 L382.50 546.50 M392.50 540.50 L391.50 538.50 L391.50 535.50 L392.50 534.50 L396.50 534.50 L397.50 535.50 L397.50 538.50 L396.50 540.50 L392.50 540.50 L391.50 541.50 L391.50 545.50 L392.50 546.50 L396.50 546.50 L397.50 545.50 L397.50 541.50 L396.50 540.50 M412.50 546.50 L416.50 546.50 L417.50 545.50 L417.50 535.50 L416.50 534.50 L412.50 534.50 L411.50 535.50 L411.50 545.50 L412.50 546.50 M412.00 546.00 L417.50 534.20 M423.50 546.50 L427.50 546.50 L428.50 545.50 L428.50 535.50 L427.50 534.50 L423.50 534.50 L422.50 535.50 L422.50 545.50 L423.50 546.50 M423.00 546.00 L428.50 534.20 M473.50 540.50 L479.50 540.50 M484.50 546.50 L488.50 546.50 L489.50 545.50 L489.50 535.50 L488.50 534.50 L484.50 534.50 L483.50 535.50 L483.50 545.50 L484.50 546.50 M484.00 546.00 L489.50 534.20 M505.90 536.70 L507.50 534.90 L507.50 534.50 L507.50 546.50 M506.50 546.50 L509.50 546.50 M520.50 540.50 L515.50 540.50 L514.50 538.50 L514.50 535.50 L515.50 534.50 L519.50 534.50 L520.50 535.50 L520.50 541.50 L517.50 546.50 M331.50 552.50 L334.50 552.50 L335.50 553.50 L335.50 556.50 L334.50 558.50 L333.00 558.50 M334.50 558.50 L335.50 559.50 L335.50 563.50 L334.50 564.50 L331.50 564.50 M370.50 552.50 L370.50 559.50 L376.50 559.50 M374.50 554.50 L374.50 564.50 M380.50 554.50 L380.50 553.50 L381.50 552.50 L385.50 552.50 L386.50 553.50 L386.50 556.50 L380.50 563.50 L380.50 564.50 L386.50 564.50 M392.50 558.50 L391.50 556.50 L391.50 553.50 L392.50 552.50 L396.50 552.50 L397.50 553.50 L397.50 556.50 L396.50 558.50 L392.50 558.50 L391.50 559.50 L391.50 563.50 L392.50 564.50 L396.50 564.50 L397.50 563.50 L397.50 559.50 L396.50 558.50 M411.50 552.50 L411.50 559.50 L417.50 559.50 M415.50 554.50 L415.50 564.50 M428.50 558.50 L423.50 558.50 L422.50 556.50 L422.50 553.50 L423.50 552.50 L427.50 552.50 L428.50 553.50 L428.50 559.50 L425.50 564.50 M463.50 558.50 L469.50 558.50 M473.50 554.50 L473.50 553.50 L474.50 552.50 L478.50 552.50 L479.50 553.50 L479.50 556.50 L473.50 563.50 L473.50 564.50 L479.50 564.50 M483.50 552.50 L483.50 559.50 L489.50 559.50 M487.50 554.50 L487.50 564.50 M505.50 564.50 L509.50 564.50 L510.50 563.50 L510.50 553.50 L509.50 552.50 L505.50 552.50 L504.50 553.50 L504.50 563.50 L505.50 564.50 M505.00 564.00 L510.50 552.20 M515.50 558.50 L514.50 556.50 L514.50 553.50 L515.50 552.50 L519.50 552.50 L520.50 553.50 L520.50 556.50 L519.50 558.50 L515.50 558.50 L514.50 559.50 L514.50 563.50 L515.50 564.50 L519.50 564.50 L520.50 563.50 L520.50 559.50 L519.50 558.50 M329.50 570.50 L329.50 577.50 L335.50 577.50 M333.50 572.50 L333.50 582.50 M370.50 570.50 L370.50 577.50 L376.50 577.50 M374.50 572.50 L374.50 582.50 M382.50 570.50 L385.50 570.50 L386.50 571.50 L386.50 574.50 L385.50 576.50 L384.00 576.50 M385.50 576.50 L386.50 577.50 L386.50 581.50 L385.50 582.50 L382.50 582.50 M391.50 570.50 L391.50 577.50 L397.50 577.50 M395.50 572.50 L395.50 582.50 M412.50 582.50 L416.50 582.50 L417.50 581.50 L417.50 571.50 L416.50 570.50 L412.50 570.50 L411.50 571.50 L411.50 581.50 L412.50 582.50 M412.00 582.00 L417.50 570.20 M422.50 570.50 L428.50 570.50 L428.50 571.50 L424.50 582.50 M463.50 576.50 L469.50 576.50 M475.50 570.50 L478.50 570.50 L479.50 571.50 L479.50 574.50 L478.50 576.50 L477.00 576.50 M478.50 576.50 L479.50 577.50 L479.50 581.50 L478.50 582.50 L475.50 582.50 M483.50 572.50 L483.50 571.50 L484.50 570.50 L488.50 570.50 L489.50 571.50 L489.50 574.50 L483.50 581.50 L483.50 582.50 L489.50 582.50 M505.50 582.50 L509.50 582.50 L510.50 581.50 L510.50 571.50 L509.50 570.50 L505.50 570.50 L504.50 571.50 L504.50 581.50 L505.50 582.50 M505.00 582.00 L510.50 570.20 M516.50 570.50 L519.50 570.50 L520.50 571.50 L520.50 574.50 L519.50 576.50 L518.00 576.50 M519.50 576.50 L520.50 577.50 L520.50 581.50 L519.50 582.50 L516.50 582.50"/>
<path class="d" d="M65.0 15.0h2v2h-2z M65.0 8.0h2v2h-2z M139.0 5.0h2v2h-2z M170.0 5.0h2v2h-2z M65.0 35.0h2v2h-2z M65.0 28.0h2v2h-2z M149.0 25.0h2v2h-2z M355.0 15.0h2v2h-2z M355.0 35.0h2v2h-2z M506.0 15.0h2v2h-2z M506.0 35.0h2v2h-2z M603.0 15.0h2v2h-2z M603.0 35.0h2v2h-2z M88.0 50.0h2v2h-2z M434.0 60.0h2v2h-2z M434.0 53.0h2v2h-2z M538.0 60.0h2v2h-2z M534.0 78.0h2v2h-2z M434.0 101.0h2v2h-2z M434.0 94.0h2v2h-2z M538.0 101.0h2v2h-2z M534.0 119.0h2v2h-2z M149.0 472.0h2v2h-2z M541.0 472.0h2v2h-2z M57.0 507.0h2v2h-2z M57.0 500.0h2v2h-2z M57.0 526.0h2v2h-2z M57.0 519.0h2v2h-2z M119.0 527.0h2v2h-2z M212.0 527.0h2v2h-2z M57.0 544.0h2v2h-2z M57.0 537.0h2v2h-2z M119.0 545.0h2v2h-2z M212.0 545.0h2v2h-2z M57.0 562.0h2v2h-2z M57.0 555.0h2v2h-2z M119.0 563.0h2v2h-2z M212.0 563.0h2v2h-2z M119.0 581.0h2v2h-2z M212.0 581.0h2v2h-2z M340.0 507.0h2v2h-2z M340.0 500.0h2v2h-2z M340.0 526.0h2v2h-2z M340.0 519.0h2v2h-2z M403.0 527.0h2v2h-2z M496.0 527.0h2v2h-2z M403.0 545.0h2v2h-2z M496.0 545.0h2v2h-2z M340.0 562.0h2v2h-2z M340.0 555.0h2v2h-2z M403.0 563.0h2v2h-2z M496.0 563.0h2v2h-2z M340.0 580.0h2v2h-2z M340.0 573.0h2v2h-2z M403.0 581.0h2v2h-2z M496.0 581.0h2v2h-2z"/>
</svg></body></html>
